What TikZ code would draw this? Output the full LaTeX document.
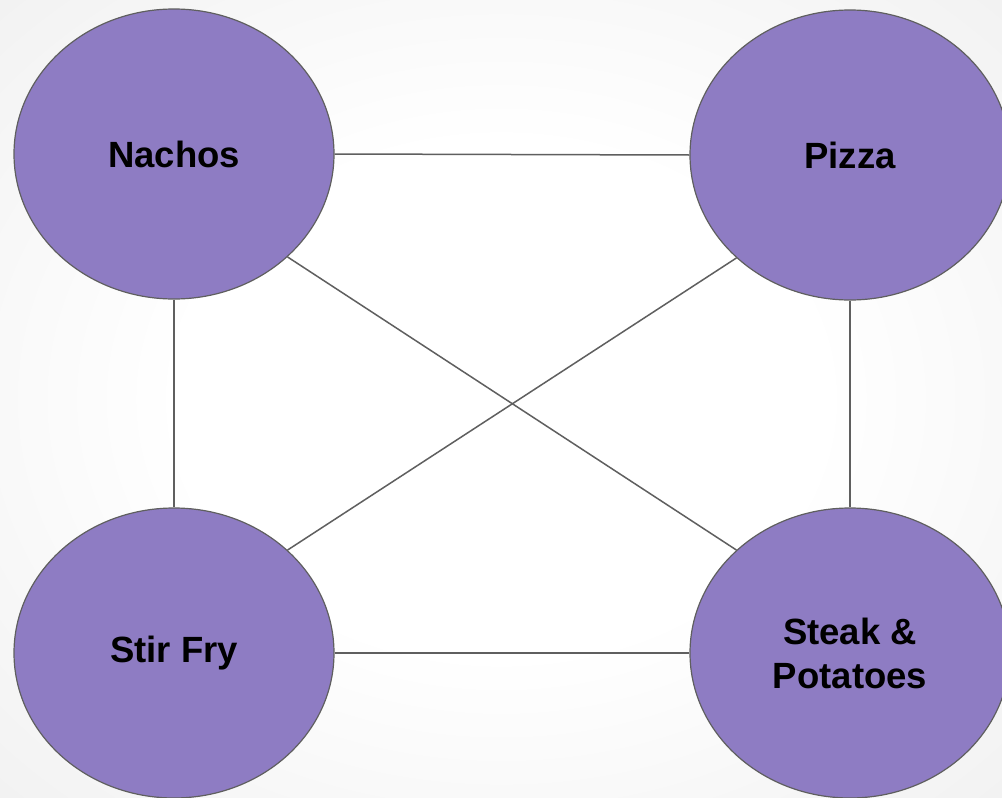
\documentclass[tikz,border=0pt]{standalone}
\usepackage{fontspec}
\setmainfont{Liberation Sans}
\usetikzlibrary{shapes.geometric}
\definecolor{dish}{HTML}{8E7CC3}
\definecolor{rim}{HTML}{5F5F5F}
\definecolor{wire}{HTML}{5F5F5F}
\definecolor{bgedge}{HTML}{E8E8E8}
\definecolor{bgcorner}{HTML}{DEDEDE}
\pgfdeclareradialshading{backdrop}{\pgfpoint{0bp}{0bp}}{%
  color(0bp)=(white); color(16bp)=(white); color(50bp)=(bgedge); color(71bp)=(bgcorner)}
\tikzset{
  dishnode/.style={ellipse, draw=rim, line width=1.2pt, fill=dish,
    minimum width=320pt, minimum height=290pt, inner sep=0pt,
    font=\fontsize{36.5}{44}\selectfont\bfseries, align=center},
  link/.style={draw=wire, line width=1.5pt}
}
\begin{document}
\begin{tikzpicture}[x=1pt,y=-1pt]
  \shade[shading=backdrop] (0,0) rectangle (1002,798);
  \useasboundingbox (0,0) rectangle (1002,798);
  % the four dishes
  \node[dishnode] (nachos) at (174,154) {Nachos};
  \node[dishnode] (pizza)  at (850,155) {Pizza};
  \node[dishnode] (stir)   at (174,653) {Stir Fry};
  \node[dishnode] (steak)  at (850,653) {Steak \&\\Potatoes};
  % connections between every pair
  \draw[link] (nachos.east) -- (pizza.west);
  \draw[link] (stir.east) -- (steak.west);
  \draw[link] (nachos.south) -- (stir.north);
  \draw[link] (pizza.south) -- (steak.north);
  \draw[link] (nachos.south east) -- (steak.north west);
  \draw[link] (pizza.south west) -- (stir.north east);
\end{tikzpicture}
\end{document}
